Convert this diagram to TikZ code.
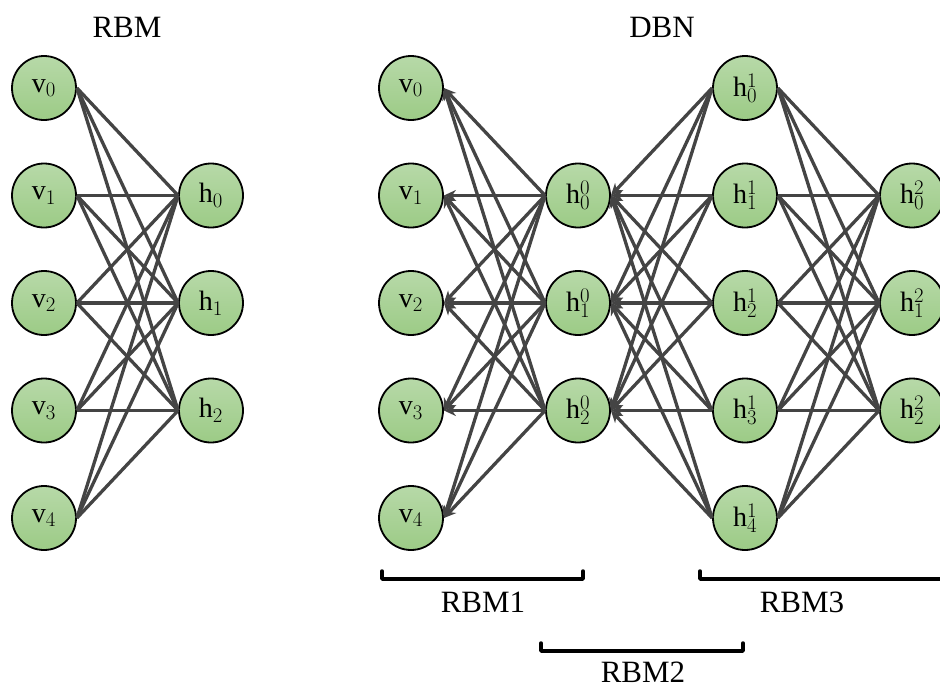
\documentclass[tikz,border=0pt]{standalone}
\usepackage{fontspec}
\setmainfont{Liberation Serif}
\usetikzlibrary{arrows.meta}
\definecolor{edgec}{HTML}{444444}
\definecolor{ntop}{HTML}{B7D9A8}
\definecolor{nbot}{HTML}{9CCB86}
\tikzset{
  unit/.style={circle, draw=black, line width=1.8pt, minimum size=64pt, inner sep=0pt,
    top color=ntop, bottom color=nbot, font=\fontsize{28}{32}\selectfont},
  conn/.style={draw=edgec, line width=3.3pt},
  aconn/.style={conn, -{Stealth[length=12pt,width=11pt]}},
  bracketline/.style={draw=black, line width=3.5pt, line cap=round, line join=round},
  titletext/.style={font=\fontsize{31}{36}\selectfont},
}
\begin{document}
\begin{tikzpicture}[x=1pt,y=-1pt]
\useasboundingbox (0,0) rectangle (940,686);
\begin{scope}
\clip (0,0) rectangle (940,686);
% titles
\node[titletext] (tRBM) at (127,27) {RBM};
\node[titletext] (tDBN) at (662,27) {DBN};
% RBM nodes
\foreach \i/\y in {0/88,1/195.5,2/303,3/410.5,4/518}
  \node[unit] (rv\i) at (44,\y) {$\mathrm{v}_{\i}$};
\foreach \i/\y in {0/195.5,1/303,2/410.5}
  \node[unit] (rh\i) at (211,\y) {$\mathrm{h}_{\i}$};
% DBN nodes
\foreach \i/\y in {0/88,1/195.5,2/303,3/410.5,4/518}
  \node[unit] (dv\i) at (411,\y) {$\mathrm{v}_{\i}$};
\foreach \i/\y in {0/195.5,1/303,2/410.5}
  \node[unit] (da\i) at (578,\y) {$\mathrm{h}^{0}_{\i}$};
\foreach \i/\y in {0/88,1/195.5,2/303,3/410.5,4/518}
  \node[unit] (db\i) at (745,\y) {$\mathrm{h}^{1}_{\i}$};
\foreach \i/\y in {0/195.5,1/303,2/410.5}
  \node[unit] (dc\i) at (912,\y) {$\mathrm{h}^{2}_{\i}$};
% edges
\foreach \i in {0,...,4}{
  \foreach \j in {0,1,2}{
    \draw[conn] (rv\i.east) -- (rh\j.west);
    \draw[aconn] (da\j.west) -- (dv\i.east);
    \draw[aconn] (db\i.west) -- (da\j.east);
    \draw[conn] (db\i.east) -- (dc\j.west);
  }
}
% brackets
\coordinate (b1a) at (382,571); \coordinate (b1b) at (583,571);
\coordinate (b2a) at (541,643); \coordinate (b2b) at (743,643);
\coordinate (b3a) at (700,571); \coordinate (b3b) at (965,571);
\draw[bracketline] (b1a) -- ++(0,8) -| (b1b);
\draw[bracketline] (b2a) -- ++(0,8) -| (b2b);
\draw[bracketline] (b3a) -- ++(0,8) -| (b3b);
\node[titletext] (l1) at (483,602) {RBM1};
\node[titletext] (l2) at (643,672) {RBM2};
\node[titletext] (l3) at (802,602) {RBM3};
\end{scope}
\end{tikzpicture}
\end{document}
